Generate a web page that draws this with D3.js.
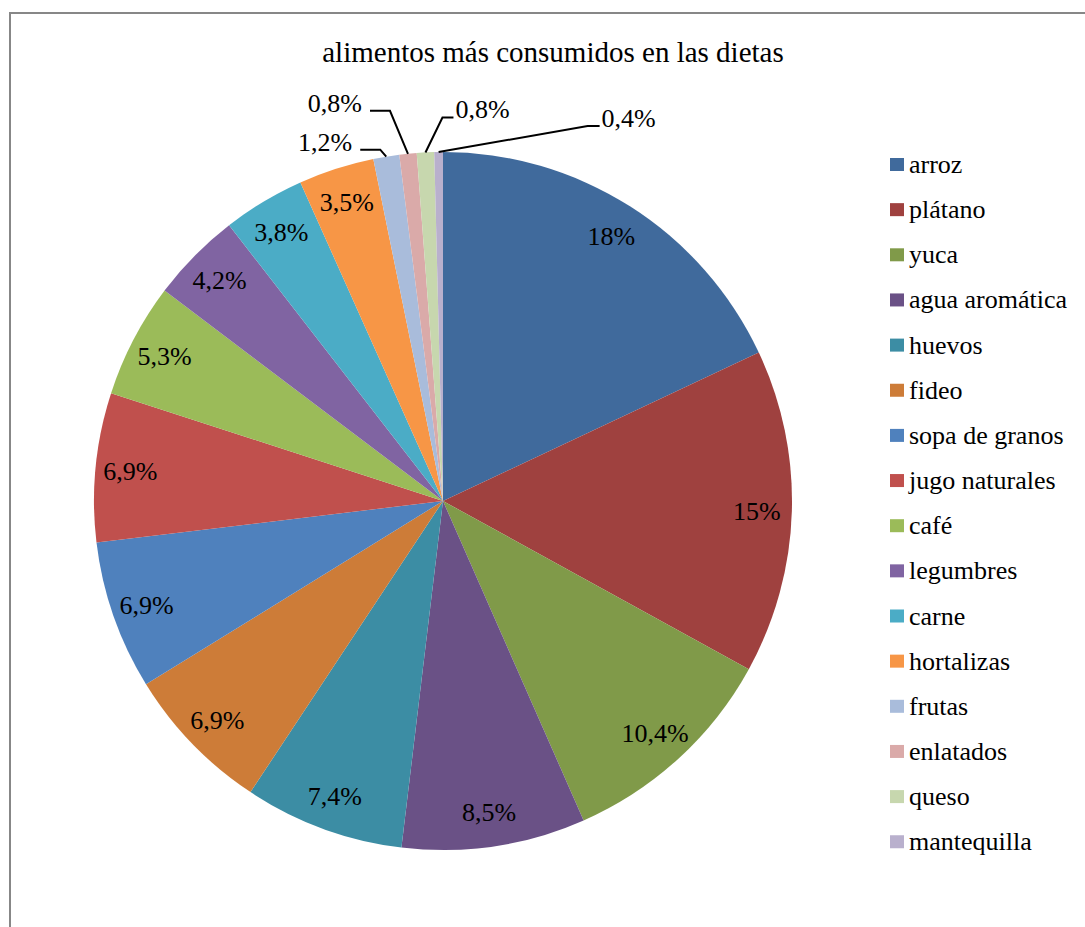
<!DOCTYPE html>
<html>
<head>
<meta charset="utf-8">
<script src="https://cdn.jsdelivr.net/npm/d3@7/dist/d3.min.js"></script>
<style>
  html, body { margin: 0; padding: 0; background: #fff; }
  svg { display: block; }
</style>
</head>
<body>
<svg id="chart" width="1085" height="927"></svg>
<script>
// Share of each food in the diets (%)
const categories = ["arroz", "plátano", "yuca", "agua aromática", "huevos", "fideo",
  "sopa de granos", "jugo naturales", "café", "legumbres", "carne", "hortalizas",
  "frutas", "enlatados", "queso", "mantequilla"];
const values = [18, 15, 10.4, 8.5, 7.4, 6.9, 6.9, 6.9, 5.3, 4.2, 3.8, 3.5, 1.2, 0.8, 0.8, 0.4];
const colors = ["#406A9C", "#9F413F", "#809A49", "#6A5186", "#3C8DA4", "#CD7C38",
  "#4F81BD", "#C0504D", "#9BBB59", "#8064A2", "#4BACC6", "#F79646",
  "#A9BCDB", "#DAAAA9", "#C7D7AE", "#B9B0CD"];
const title = "alimentos más consumidos en las dietas";

// Slices too thin for an inside label get a leader line to an outside label:
// elbow offset from the arc point, then a horizontal run (negative = leftwards).
const outsideLabels = {
  "frutas":      { elbow: [-6, -7],   run: -20 },
  "enlatados":   { elbow: [-18, -43], run: -20 },
  "queso":       { elbow: [17, -35],  run: 11 },
  "mantequilla": { elbow: [149, -26], run: 12 }
};

const FONT = "'Liberation Serif', 'Times New Roman', Times, serif";
const svg = d3.select("#chart");
const cx = 443, cy = 501, R = 349;
const fmt = v => String(v).replace(".", ",") + "%";

// chart frame
svg.append("rect")
  .attr("x", 10).attr("y", 13).attr("width", 1200).attr("height", 1000)
  .attr("fill", "none").attr("stroke", "#878787").attr("stroke-width", 2);

svg.append("text")
  .attr("x", 553).attr("y", 62)
  .attr("text-anchor", "middle")
  .attr("font-family", FONT)
  .attr("font-size", 29)
  .attr("fill", "#000")
  .text(title);

const data = categories.map((c, i) => ({ name: c, value: values[i], color: colors[i] }));
const pie = d3.pie().value(d => d.value).sort(null);
const arcs = pie(data);
const arc = d3.arc().innerRadius(0).outerRadius(R);

const g = svg.append("g").attr("transform", `translate(${cx},${cy})`);

g.selectAll("path.slice")
  .data(arcs)
  .join("path")
  .attr("class", "slice")
  .attr("d", arc)
  .attr("fill", d => d.data.color);

const mid = d => (d.startAngle + d.endAngle) / 2;

// inside labels
const inner = arcs.filter(d => !outsideLabels[d.data.name]);
g.selectAll("text.in")
  .data(inner)
  .join("text")
  .attr("class", "in")
  .attr("x", d => Math.sin(mid(d)) * R * 0.9)
  .attr("y", d => -Math.cos(mid(d)) * R * 0.9)
  .attr("dy", "0.35em")
  .attr("text-anchor", "middle")
  .attr("font-family", FONT)
  .attr("font-size", 26)
  .attr("fill", "#000")
  .text(d => fmt(d.data.value));

// outside labels with leader lines
const outer = arcs.filter(d => outsideLabels[d.data.name]);
outer.forEach(d => {
  const cfg = outsideLabels[d.data.name];
  const a = mid(d);
  const p0 = [Math.sin(a) * R, -Math.cos(a) * R];
  const p1 = [p0[0] + cfg.elbow[0], p0[1] + cfg.elbow[1]];
  const p2 = [p1[0] + cfg.run, p1[1]];
  g.append("path")
    .attr("d", d3.line()([p0, p1, p2]))
    .attr("fill", "none")
    .attr("stroke", "#000")
    .attr("stroke-width", 2);
  const left = cfg.run < 0;
  g.append("text")
    .attr("x", p2[0] + (left ? -8 : 2))
    .attr("y", p2[1] + 1)
    .attr("text-anchor", left ? "end" : "start")
    .attr("font-family", FONT)
    .attr("font-size", 26)
    .attr("fill", "#000")
    .text(fmt(d.data.value));
});

// legend
const legend = svg.append("g").attr("transform", "translate(890,165)");
const rowH = 45.15;
const item = legend.selectAll("g")
  .data(data)
  .join("g")
  .attr("transform", (d, i) => `translate(0,${i * rowH})`);
item.append("rect")
  .attr("x", 0).attr("y", -7).attr("width", 14).attr("height", 13)
  .attr("fill", d => d.color);
item.append("text")
  .attr("x", 19).attr("y", 8)
  .attr("font-family", FONT)
  .attr("font-size", 26)
  .attr("fill", "#000")
  .text(d => d.name);
</script>
</body>
</html>
